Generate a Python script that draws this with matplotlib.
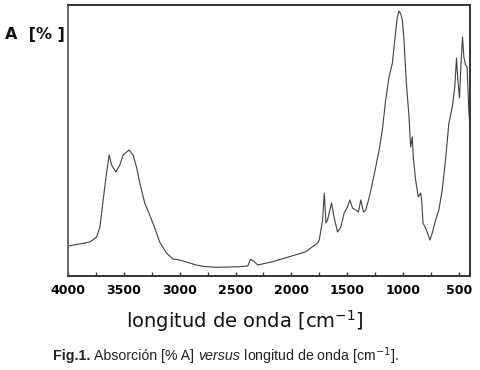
import matplotlib
matplotlib.use("Agg")
import matplotlib.pyplot as plt
from matplotlib.ticker import MultipleLocator

# Wavenumber (cm^-1) and absorbance (arbitrary units)
wavenumber = [4000, 3848, 3804, 3744, 3714, 3685, 3655, 3631, 3610, 3571, 3536, 3506,
              3453, 3417, 3387, 3357, 3313, 3268, 3223, 3179, 3119, 3060, 3000, 2940,
              2851, 2780, 2673, 2550, 2464, 2390, 2366, 2339, 2301, 2167, 2018, 1869,
              1810, 1765, 1750, 1720, 1705, 1690, 1676, 1640, 1616, 1586, 1557, 1527,
              1497, 1476, 1452, 1423, 1399, 1378, 1354, 1333, 1304, 1274, 1244, 1214,
              1185, 1155, 1125, 1095, 1071, 1051, 1036, 1020, 1006, 991, 970, 946,
              932, 917, 908, 887, 863, 842, 833, 821, 798, 774, 759, 738, 708, 679,
              649, 619, 589, 559, 536, 521, 509, 494, 482, 467, 455, 440, 426, 411, 400]
absorbance = [30, 33, 34, 39, 49, 76, 103, 121, 111, 104, 111, 121,
              126, 121, 109, 93, 73, 61, 48, 34, 23, 17, 16, 14,
              11, 9.5, 8.7, 9, 9.3, 10, 16.7, 15, 11, 14.3, 19.3, 24.3,
              29.3, 33, 36, 56, 83, 53, 56, 73, 58, 44, 49, 63,
              69, 76, 68, 66, 64, 76, 64, 66, 78, 93, 109, 126,
              146, 176, 199, 213, 239, 259, 265, 262, 256, 236, 193, 159,
              129, 139, 119, 96, 79, 83, 76, 53, 48, 41, 36, 43, 56, 66,
              86, 116, 153, 169, 189, 218, 196, 178, 209, 239, 219, 211, 209, 166, 150]

xticks = [4000, 3500, 3000, 2500, 2000, 1500, 1000, 500]

fig = plt.figure(figsize=(4.8, 3.7), dpi=100)
ax = fig.add_axes([68/480, 1 - 276/370, (470-68)/480, (276-5)/370])
ax.plot(wavenumber, absorbance, color="#404040", lw=0.8)
ax.set_xlim(4000, 400)
ax.set_ylim(0, 271)
ax.set_xticks(xticks)
ax.set_xticklabels([str(t) for t in xticks], fontsize=9, fontweight="bold",
                   family="DejaVu Sans")
ax.xaxis.set_minor_locator(MultipleLocator(250))
ax.tick_params(axis="x", which="both", direction="in", length=3, width=1,
               color="#333333", pad=6)
ax.set_yticks([])
for s in ax.spines.values():
    s.set_color("#333333")
    s.set_linewidth(1.4)
ax.spines["left"].set_color("#666666")

fig.text(5/480, 1 - 35/370, "A  [% ]", fontsize=11.5, fontweight="bold",
         family="DejaVu Sans", va="center", ha="left", color="#111111")
fig.text(245/480, 1 - 321/370, "longitud de onda [cm$^{-1}$]", fontsize=14,
         family="DejaVu Sans", va="center", ha="center", color="#111111")

# caption in pieces
fig.canvas.draw()
renderer = fig.canvas.get_renderer()
pieces = [("Fig.1. ", dict(fontweight="bold")),
          ("Absorción [% A] ", dict()),
          ("versus", dict(style="italic")),
          (" longitud de onda [cm$^{-1}$].", dict())]
x = 53
y = 1 - 356/370
for txt, kw in pieces:
    t = fig.text(x/480, y, txt, fontsize=10.2, family="Liberation Sans", va="center",
                 ha="left", color="#222222", **kw)
    bb = t.get_window_extent(renderer)
    x += bb.width

fig.savefig("out.png", dpi=100)
